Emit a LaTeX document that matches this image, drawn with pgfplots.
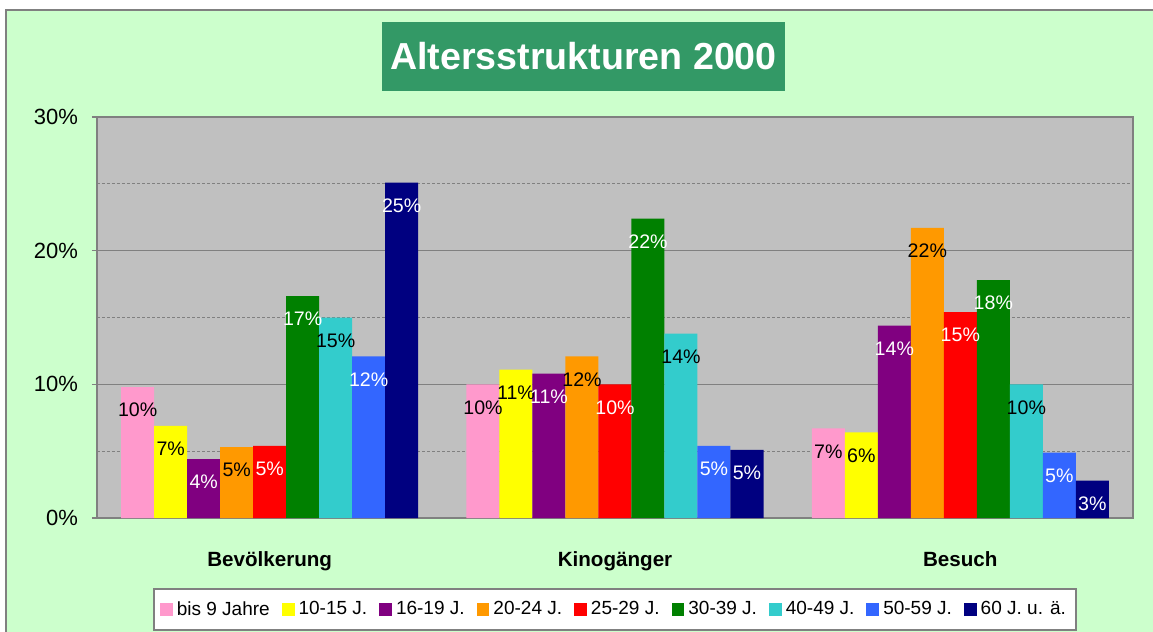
\documentclass[border=0pt]{standalone}
\usepackage{fontspec}
\setmainfont{Liberation Sans}
\usepackage{pgfplots}
\pgfplotsset{compat=1.18}
\definecolor{bg}{HTML}{CCFFCC}
\definecolor{frame}{HTML}{808080}
\definecolor{plotbg}{HTML}{C0C0C0}
\definecolor{titlebg}{HTML}{339966}
\definecolor{c1}{HTML}{FF99CC}
\definecolor{c2}{HTML}{FFFF00}
\definecolor{c3}{HTML}{800080}
\definecolor{c4}{HTML}{FF9900}
\definecolor{c5}{HTML}{FF0000}
\definecolor{c6}{HTML}{008000}
\definecolor{c7}{HTML}{33CCCC}
\definecolor{c8}{HTML}{3366FF}
\definecolor{c9}{HTML}{000080}
\begin{document}
\begin{tikzpicture}[x=1pt,y=1pt]
\useasboundingbox (0,0) rectangle (576.5,-316);
\clip (0,0) rectangle (576.5,-316);
\fill[white] (0,0) rectangle (576.5,-316);
\filldraw[fill=bg, draw=frame, line width=1pt] (3,-5) rectangle (600,-340);
\begin{axis}[
  at={(48.5pt,-259pt)}, anchor=south west,
  scale only axis, width=518pt, height=200.5pt,
  xmin=-0.5, xmax=2.5, ymin=0, ymax=30,
  ybar=0pt, bar width=16.5pt,
  axis background/.style={fill=plotbg},
  axis line style={draw=frame, line width=1pt},
  xtick={0,1,2}, xticklabels={Bevölkerung,Kinogänger,Besuch},
  xtick style={draw=none},
  xticklabel style={font=\fontsize{10.3}{12}\selectfont\bfseries, anchor=base, yshift=-21.5pt},
  ytick={0,10,20,30}, minor ytick={5,15,25},
  ytick pos=left, tick align=outside, major tick length=2.5pt, minor tick length=0pt,
  ytick style={draw=frame, line width=0.7pt},
  yticklabel={\pgfmathprintnumber{\tick}\%},
  yticklabel style={font=\fontsize{11}{13}\selectfont, anchor=east, xshift=-3.5pt},
  /pgf/number format/assume math mode=true,
  ymajorgrids, yminorgrids,
  major grid style={draw=frame, line width=0.7pt},
  minor grid style={draw=frame, line width=0.6pt, dash pattern=on 1.5pt off 1pt},
  nodes near coords={\pgfmathprintnumber[fixed,precision=0]{\pgfplotspointmeta}\%},
  nodes near coords align={center},
  every node near coord/.append style={font=\fontsize{9.8}{11}\selectfont, yshift=-11.5pt, inner sep=0pt},
  legend columns=9,
  legend style={at={(0.5,-0.229)}, anchor=center, draw=frame, line width=1pt, fill=white,
    font=\fontsize{9.5}{11}\selectfont, inner xsep=3pt, inner ysep=4pt,
    /tikz/every even column/.append style={column sep=4pt},
    /tikz/every odd column/.append style={column sep=0pt}},
  legend image code/.code={\path[#1,draw=none] (0pt,-3.2pt) rectangle (6.4pt,3.2pt);},
  legend cell align=left,
]
\addplot[fill=c1, draw=none, every node near coord/.append style={text=black}] coordinates {(0,9.8) (1,10.0) (2,6.7)};
\addplot[fill=c2, draw=none, every node near coord/.append style={text=black}] coordinates {(0,6.9) (1,11.1) (2,6.4)};
\addplot[fill=c3, draw=none, every node near coord/.append style={text=white}] coordinates {(0,4.4) (1,10.8) (2,14.4)};
\addplot[fill=c4, draw=none, every node near coord/.append style={text=black}] coordinates {(0,5.3) (1,12.1) (2,21.7)};
\addplot[fill=c5, draw=none, every node near coord/.append style={text=white}] coordinates {(0,5.4) (1,10.0) (2,15.4)};
\addplot[fill=c6, draw=none, every node near coord/.append style={text=white}] coordinates {(0,16.6) (1,22.4) (2,17.8)};
\addplot[fill=c7, draw=none, every node near coord/.append style={text=black}] coordinates {(0,15.0) (1,13.8) (2,10.0)};
\addplot[fill=c8, draw=none, every node near coord/.append style={text=white}] coordinates {(0,12.1) (1,5.4) (2,4.9)};
\addplot[fill=c9, draw=none, every node near coord/.append style={text=white}] coordinates {(0,25.1) (1,5.1) (2,2.8)};
\legend{bis 9 Jahre,10-15 J.,16-19 J.,20-24 J.,25-29 J.,30-39 J.,40-49 J.,50-59 J.,60 J. u. ä.}
\end{axis}
\node[fill=titlebg, text=white, font=\fontsize{18.8}{22}\selectfont\bfseries, minimum width=201.5pt, minimum height=34.5pt, inner sep=0pt] at (291.75,-28.25) {Altersstrukturen 2000};
\end{tikzpicture}
\end{document}
